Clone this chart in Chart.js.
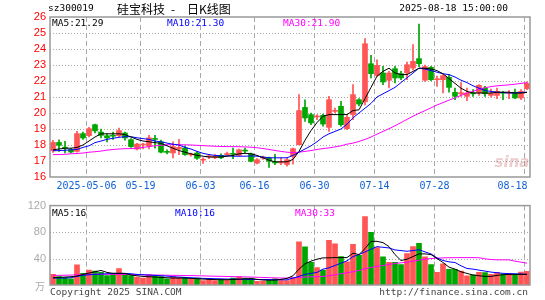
<!DOCTYPE html>
<html>
<head>
<meta charset="utf-8">
<script src="https://cdn.jsdelivr.net/npm/chart.js"></script>
<style>
  body { margin: 0; background: #fff; width: 545px; height: 300px; overflow: hidden; position: relative; }
  #kbox { position: absolute; left: 0; top: 0; }
  #vbox { position: absolute; left: 0; top: 195px; }
</style>
</head>
<body>
<div id="kbox"><canvas id="kline" width="545" height="195"></canvas></div>
<div id="vbox"><canvas id="vol" width="545" height="105"></canvas></div>
<script>
// trading days 2025-04-23 .. 2025-08-18
const dates = [
  "04-23","04-24","04-25","04-28","04-29","04-30",
  "05-06","05-07","05-08","05-09","05-12","05-13","05-14","05-15","05-16",
  "05-19","05-20","05-21","05-22","05-23","05-26","05-27","05-28","05-29","05-30",
  "06-03","06-04","06-05","06-06","06-09","06-10","06-11","06-12","06-13",
  "06-16","06-17","06-18","06-19","06-20","06-23","06-24","06-25","06-26","06-27","06-30",
  "07-01","07-02","07-03","07-04","07-07","07-08","07-09","07-10","07-11",
  "07-14","07-15","07-16","07-17","07-18","07-21","07-22","07-23","07-24","07-25",
  "07-28","07-29","07-30","07-31","08-01","08-04","08-05","08-06","08-07","08-08",
  "08-11","08-12","08-13","08-14","08-15","08-18"
];
const tickDates = ["05-06","05-19","06-03","06-16","06-30","07-14","07-28","08-18"];
const tickLabels = ["2025-05-06","05-19","06-03","06-16","06-30","07-14","07-28","08-18"];

const open = [
  17.64,18.16,17.85,17.71,17.60,18.71,18.58,19.27,18.81,18.58,
  18.60,18.58,18.75,18.33,17.75,18.00,17.94,18.40,18.20,17.56,
  17.50,17.75,17.81,17.38,17.50,17.05,17.25,17.20,17.35,17.40,
  17.45,17.35,17.68,17.45,16.87,17.18,17.20,16.90,16.88,16.78,
  17.29,18.02,20.35,19.90,19.75,19.85,19.10,20.10,20.42,19.02,
  19.90,20.83,20.70,23.08,22.35,22.50,22.04,22.77,22.46,22.50,
  22.81,23.40,22.05,22.85,22.08,22.08,22.23,21.29,21.20,21.04,
  21.23,21.25,21.56,21.10,21.10,21.27,21.23,21.30,20.94,21.52
];
const close = [
  18.16,17.98,17.80,17.56,18.71,18.44,19.02,18.88,18.60,18.44,
  18.55,18.90,18.44,17.90,18.06,18.04,18.45,18.35,17.55,17.54,
  17.90,17.85,17.40,17.42,17.17,17.10,17.32,17.30,17.20,17.45,
  17.42,17.70,17.62,16.98,17.08,17.20,16.98,16.88,16.92,17.08,
  17.77,20.15,19.69,19.38,19.80,19.31,20.83,20.15,19.27,19.73,
  21.15,20.56,24.33,22.46,22.98,21.94,22.50,22.19,22.19,23.02,
  23.23,23.08,22.90,22.08,22.13,22.33,21.60,21.04,21.27,21.25,
  21.20,21.73,21.20,21.23,21.35,21.23,21.27,20.94,21.35,21.85
];
const high = [
  18.29,18.33,18.23,17.77,18.85,18.80,19.10,19.30,19.00,18.70,
  18.80,19.05,18.80,18.40,18.10,18.10,18.60,18.60,18.30,17.70,
  18.20,18.35,17.95,17.50,17.60,17.20,17.40,17.40,17.45,17.55,
  17.80,17.75,17.80,17.50,17.15,17.30,17.25,17.42,17.20,17.20,
  17.81,21.15,20.83,20.00,19.90,19.94,21.04,20.30,20.73,19.90,
  21.77,20.90,24.65,23.60,23.33,22.92,22.60,22.92,22.60,23.19,
  24.27,25.55,23.00,22.92,22.30,22.40,22.40,21.56,21.90,21.56,
  21.46,21.77,21.67,21.50,21.56,21.35,21.40,21.50,21.46,21.95
];
const low = [
  17.54,17.60,17.50,17.50,17.55,18.35,18.50,18.75,18.44,18.20,
  18.35,18.50,18.30,17.85,17.70,17.75,17.75,17.80,17.50,17.45,
  17.20,17.40,17.35,17.30,17.10,16.85,17.15,17.15,17.15,17.35,
  17.15,17.30,17.50,16.95,16.82,17.10,16.60,16.77,16.77,16.67,
  16.80,18.00,19.48,19.27,19.58,19.17,18.85,20.00,19.17,18.96,
  19.58,20.45,20.50,22.19,22.29,21.77,21.56,21.88,22.08,22.08,
  22.70,22.90,21.98,22.02,21.66,21.25,21.30,20.83,21.04,20.77,
  21.04,21.10,21.04,21.00,20.90,20.83,20.90,20.90,20.83,21.46
];
const ma5 = [
  17.70,17.75,17.80,17.80,17.85,18.00,18.25,18.50,18.70,18.70,
  18.70,18.70,18.65,18.50,18.35,18.25,18.20,18.15,18.10,17.95,
  17.80,17.65,17.55,17.45,17.35,17.30,17.25,17.25,17.25,17.30,
  17.35,17.45,17.48,17.45,17.35,17.20,17.05,16.95,16.95,16.95,
  17.10,17.60,18.30,18.90,19.40,19.80,19.90,19.90,19.90,19.90,
  20.15,20.20,20.90,21.60,22.30,22.60,22.80,22.50,22.40,22.40,
  22.60,22.80,22.80,22.75,22.65,22.45,22.15,21.85,21.55,21.35,
  21.25,21.25,21.25,21.25,21.30,21.30,21.30,21.25,21.25,21.29
];
const ma10 = [
  17.64,17.65,17.67,17.70,17.72,17.85,17.95,18.15,18.25,18.35,
  18.42,18.48,18.52,18.52,18.45,18.40,18.35,18.25,18.20,18.12,
  18.05,18.00,17.85,17.75,17.60,17.48,17.40,17.35,17.32,17.32,
  17.30,17.30,17.30,17.32,17.30,17.25,17.20,17.20,17.20,17.20,
  17.35,17.55,17.75,17.95,18.20,18.50,18.70,18.85,19.00,19.30,
  19.70,20.00,20.30,20.60,21.00,21.20,21.40,21.60,21.90,22.20,
  22.50,22.80,22.75,22.65,22.55,22.45,22.40,22.25,22.05,21.90,
  21.70,21.55,21.40,21.35,21.30,21.28,21.25,21.25,21.28,21.30
];
const ma30 = [
  17.40,17.40,17.42,17.45,17.47,17.50,17.55,17.58,17.62,17.68,
  17.72,17.75,17.77,17.78,17.80,17.85,17.90,17.95,17.98,18.02,
  18.02,18.02,18.01,18.00,17.98,17.96,17.94,17.92,17.91,17.90,
  17.90,17.89,17.88,17.86,17.83,17.78,17.72,17.66,17.60,17.55,
  17.52,17.55,17.60,17.65,17.72,17.78,17.82,17.88,17.95,18.05,
  18.12,18.22,18.35,18.50,18.68,18.85,19.02,19.20,19.40,19.60,
  19.80,19.98,20.15,20.32,20.50,20.65,20.80,20.95,21.10,21.25,
  21.35,21.48,21.58,21.65,21.70,21.73,21.76,21.80,21.85,21.90
];

// volume in 万手
const volume = [
  16.2,12.9,11.4,9.5,30.5,17.6,22.4,21.0,19.0,14.3,
  16.0,24.8,17.6,14.3,11.9,10.5,15.2,14.3,12.9,9.5,
  12.9,11.4,11.4,9.5,10.5,6.7,9.0,6.7,8.1,7.6,
  10.5,12.4,10.5,10.5,5.7,5.7,6.7,9.5,6.7,6.7,
  11.4,65.2,57.6,34.3,26.2,22.4,67.6,62.4,42.9,35.2,
  61.4,44.8,103.3,79.5,56.7,42.4,34.3,34.3,31.0,47.6,
  58.1,62.9,42.4,31.0,19.0,31.9,23.8,23.8,21.0,13.8,
  15.2,19.0,18.6,16.2,19.0,16.5,16.5,15.0,19.5,20.5
];
const vma5 = [
  11.0,11.5,12.0,12.5,13.5,16.0,18.0,20.0,22.0,19.0,
  17.6,17.6,17.5,15.0,14.0,13.0,12.5,12.0,11.5,11.0,
  10.5,10.5,10.5,10.0,9.5,9.0,8.5,8.2,8.0,8.0,
  8.3,8.8,9.2,9.5,8.5,7.5,7.2,7.5,8.5,10.0,
  14.0,24.0,32.0,36.0,39.0,41.0,41.0,41.4,41.4,41.4,
  48.0,46.0,55.0,66.0,66.0,64.0,58.0,46.0,37.0,39.0,
  43.0,47.0,47.0,46.0,40.0,34.0,27.0,24.0,20.0,17.5,
  15.0,14.0,13.0,13.0,14.5,15.5,16.0,16.0,16.0,16.0
];
const vma10 = [
  10.5,10.5,10.5,11.0,13.0,14.5,15.5,16.0,16.5,17.0,
  17.6,17.6,17.5,17.0,16.0,15.5,15.0,14.5,14.0,13.5,
  12.5,12.0,11.5,11.0,10.5,10.0,9.8,9.5,9.3,9.0,
  8.8,8.7,8.6,8.5,8.4,8.3,8.2,8.0,7.8,7.8,
  10.5,13.0,16.0,17.5,19.0,24.0,26.0,29.5,33.0,36.5,
  43.0,46.0,50.0,54.0,58.0,57.0,56.0,53.0,52.0,51.0,
  52.0,53.3,50.0,47.0,41.0,37.0,35.0,34.0,29.0,25.0,
  24.0,22.5,21.0,19.5,18.5,17.6,17.2,17.0,16.7,16.2
];
const vma30 = [
  14.5,14.6,14.8,15.0,15.5,16.0,16.2,16.2,16.2,16.2,
  16.2,16.2,16.0,15.8,15.6,15.4,15.2,15.1,15.0,14.8,
  14.6,14.5,14.3,14.2,14.0,13.8,13.5,13.3,13.1,12.9,
  12.7,12.5,12.3,12.0,11.7,11.4,11.1,10.8,10.6,10.5,
  10.8,11.5,12.0,12.3,12.6,13.0,14.0,15.5,17.0,18.5,
  20.0,22.0,24.5,26.5,28.0,29.5,31.0,32.5,33.5,34.5,
  36.0,37.5,39.0,40.0,40.5,41.0,41.2,41.3,41.4,41.4,
  41.4,41.2,39.5,38.5,38.0,38.0,38.0,36.0,34.5,33.0
];

const priceTicks = [16,17,18,19,20,21,22,23,24,25,26];
const volTicks = [40, 80, 120];

const UP = "#ff5555";
const DOWN = "#00a600";
const candleColors = close.map((c, i) => c >= open[i] ? UP : DOWN);
const last = dates.length - 1;
const mono = "'DejaVu Sans Mono', monospace";

function drawText(ctx, text, x, y, color, font, align) {
  ctx.fillStyle = color;
  ctx.font = font;
  ctx.textAlign = align || "left";
  ctx.textBaseline = "middle";
  ctx.fillText(text, x, y);
}

// grid lines, frame and date labels, placed with the scales
const framePlugin = {
  id: "frame",
  beforeDatasetsDraw(chart, args, opts) {
    const { ctx, chartArea: a, scales: { x, y } } = chart;
    ctx.save();
    ctx.lineWidth = 1;
    ctx.strokeStyle = "#a8a8a8";
    ctx.setLineDash([1, 2]);
    opts.hLines.forEach(v => {
      const py = Math.round(y.getPixelForValue(v)) + 0.5;
      ctx.beginPath(); ctx.moveTo(a.left, py); ctx.lineTo(a.right, py); ctx.stroke();
    });
    ctx.setLineDash([5, 3]);
    const half = (x.getPixelForValue(1) - x.getPixelForValue(0)) / 2;
    tickDates.forEach((d, k) => {
      const px = Math.round(x.getPixelForValue(dates.indexOf(d)) - half) + 0.5;
      ctx.beginPath(); ctx.moveTo(px, a.top); ctx.lineTo(px, a.bottom); ctx.stroke();
      if (opts.dateLabels) {
        const isLast = k === tickDates.length - 1;
        drawText(ctx, tickLabels[k], isLast ? px + 3 : px, a.bottom + 9, "#1060d8", "10px " + mono, isLast ? "right" : "center");
      }
    });
    ctx.restore();
  },
  afterDraw(chart, args, opts) {
    const { ctx, chartArea: a } = chart;
    ctx.save();
    ctx.strokeStyle = "#999";
    ctx.lineWidth = 1.5;
    ctx.strokeRect(a.left, a.top, a.right - a.left, a.bottom - a.top);
    if (opts.texts) opts.texts(ctx, a);
    ctx.restore();
  }
};

function candleDatasets() {
  return [
    { type: "line", data: ma5, borderColor: "#000", borderWidth: 1, pointRadius: 0, order: 0 },
    { type: "line", data: ma10, borderColor: "#0000ff", borderWidth: 1, pointRadius: 0, order: 0 },
    { type: "line", data: ma30, borderColor: "#ff00ff", borderWidth: 1, pointRadius: 0, order: 0 },
    {
      type: "bar", data: open.map((o, i) => [o, close[i]]), backgroundColor: candleColors,
      barThickness: 5, minBarLength: 1, grouped: false, order: 1
    },
    {
      type: "bar", data: low.map((l, i) => [l, high[i]]), backgroundColor: candleColors,
      barThickness: 1, grouped: false, order: 2
    }
  ];
}

const kChart = new Chart(document.getElementById("kline"), {
  type: "bar",
  data: { labels: dates, datasets: candleDatasets() },
  options: {
    responsive: false,
    animation: false,
    events: [],
    layout: { padding: { left: 0, right: 15, top: 17, bottom: 18 } },
    plugins: {
      legend: { display: false },
      tooltip: { enabled: false },
      frame: {
        hLines: priceTicks.slice(1, -1),
        dateLabels: true,
        texts(ctx, a) {
          drawText(ctx, "sz300019", 48, 9, "#000", "9.5px " + mono);
          drawText(ctx, "硅宝科技", 117, 9, "#000", "12px 'Noto Sans CJK SC'");
          drawText(ctx, "-", 173, 9, "#000", "12px 'Noto Sans CJK SC'", "center");
          drawText(ctx, "日K线图", 187, 9, "#000", "12px 'Noto Sans CJK SC'");
          drawText(ctx, "2025-08-18 15:00:00", 508, 9, "#000", "9.5px " + mono, "right");
          drawText(ctx, "MA5:" + ma5[last].toFixed(2), 52, a.top + 7, "#000", "9.5px " + mono);
          drawText(ctx, "MA10:" + ma10[last].toFixed(2), 167, a.top + 7, "#0000ff", "9.5px " + mono);
          drawText(ctx, "MA30:" + ma30[last].toFixed(2), 283, a.top + 7, "#ff00ff", "9.5px " + mono);
          drawText(ctx, "sina", 512, a.bottom - 14, "rgba(200,110,110,0.35)", "italic bold 15px 'DejaVu Sans'", "center");
        }
      }
    },
    scales: {
      x: { offset: true, display: false },
      y: {
        min: 16, max: 26,
        afterFit: s => { s.width = 50; },
        afterBuildTicks: s => { s.ticks = priceTicks.map(v => ({ value: v })); },
        grid: { display: false, drawTicks: false },
        border: { display: false },
        ticks: {
          autoSkip: false, color: "#f00", padding: 4,
          font: { family: "'Liberation Sans', Arial", size: 11 }
        }
      }
    }
  },
  plugins: [framePlugin]
});

const vChart = new Chart(document.getElementById("vol"), {
  type: "bar",
  data: {
    labels: dates,
    datasets: [
      { type: "line", data: vma5, borderColor: "#000", borderWidth: 1, pointRadius: 0, order: 0 },
      { type: "line", data: vma10, borderColor: "#0000ff", borderWidth: 1, pointRadius: 0, order: 0 },
      { type: "line", data: vma30, borderColor: "#ff00ff", borderWidth: 1, pointRadius: 0, order: 0 },
      { type: "bar", data: volume, backgroundColor: candleColors, barThickness: 5, grouped: false, order: 1 }
    ]
  },
  options: {
    responsive: false,
    animation: false,
    events: [],
    layout: { padding: { left: 0, right: 15, top: 7, bottom: 15 } },
    plugins: {
      legend: { display: false },
      tooltip: { enabled: false },
      frame: {
        hLines: volTicks.slice(0, -1),
        texts(ctx, a) {
          drawText(ctx, "MA5:" + Math.round(vma5[last]), 52, a.top + 8, "#000", "9.5px " + mono);
          drawText(ctx, "MA10:" + Math.round(vma10[last]), 175, a.top + 8, "#0000ff", "9.5px " + mono);
          drawText(ctx, "MA30:" + Math.round(vma30[last]), 295, a.top + 8, "#ff00ff", "9.5px " + mono);
          drawText(ctx, "万", 45, a.bottom + 1, "#aaa", "10px 'Noto Sans CJK SC'", "right");
          drawText(ctx, "Copyright 2025 SINA.COM", 50, a.bottom + 8, "#444", "9.5px " + mono);
          drawText(ctx, "http://finance.sina.com.cn", 528, a.bottom + 8, "#444", "9.5px " + mono, "right");
        }
      }
    },
    scales: {
      x: { offset: true, display: false },
      y: {
        min: 0, max: 120,
        afterFit: s => { s.width = 50; },
        afterBuildTicks: s => { s.ticks = volTicks.map(v => ({ value: v })); },
        grid: { display: false, drawTicks: false },
        border: { display: false },
        ticks: {
          autoSkip: false, color: "#aaa", padding: 4,
          font: { family: "'Liberation Sans', Arial", size: 11 }
        }
      }
    }
  },
  plugins: [framePlugin]
});
</script>
</body>
</html>
